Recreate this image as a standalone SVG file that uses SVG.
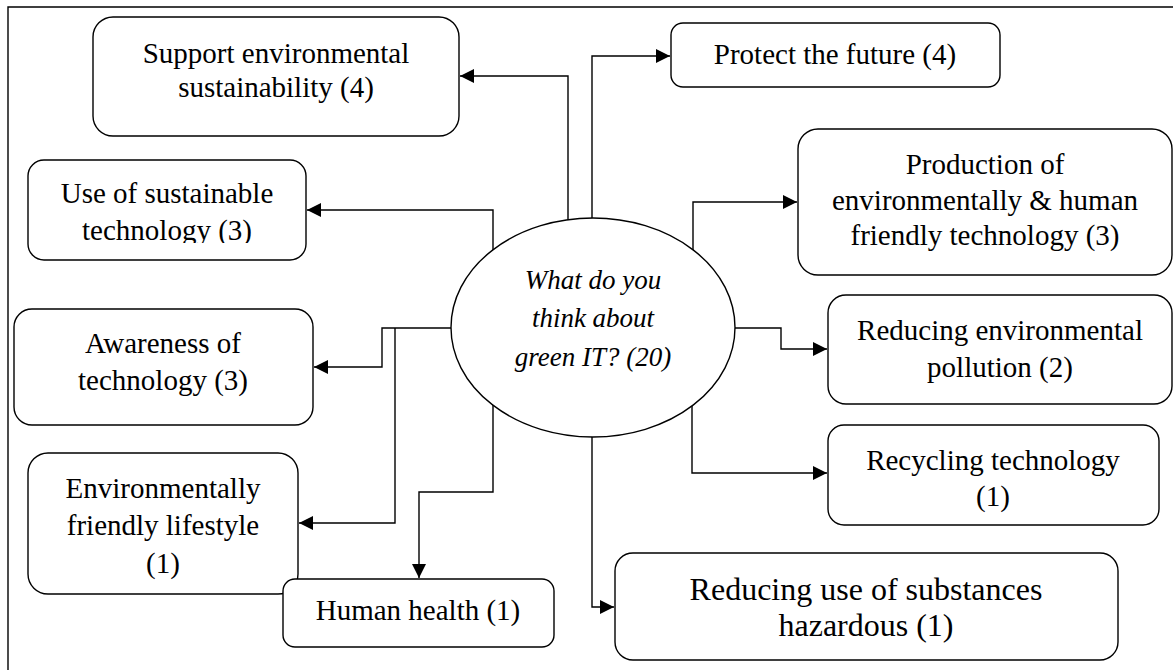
<svg xmlns="http://www.w3.org/2000/svg" width="1173" height="670" viewBox="0 0 1173 670">
<style>
.box{fill:#fff;stroke:#000;stroke-width:1.4}
.lbl{font-family:"Liberation Serif","Times New Roman",serif;font-size:29px;fill:#000;text-anchor:middle}
.big{font-size:32px}
.ctr{font-family:"Liberation Serif","Times New Roman",serif;font-size:27px;font-style:italic;fill:#000;text-anchor:middle}
.con{fill:none;stroke:#000;stroke-width:1.4}
.frame{fill:none;stroke:#000;stroke-width:1.4}
</style>
<defs>
<marker id="arr" markerUnits="userSpaceOnUse" markerWidth="14" markerHeight="14" refX="14" refY="7" orient="auto">
<path d="M0,0 L14,7 L0,14 z" fill="#000"/>
</marker>
<clipPath id="clipUse"><rect x="28" y="160" width="278" height="83"/></clipPath>
</defs>
<rect width="1173" height="670" fill="#fff"/>
<path class="frame" d="M8,670 V7 H1173"/>
<g id="connectors">
<path class="con" d="M568,220 V76 H460" marker-end="url(#arr)"/>
<path class="con" d="M592,218 V56 H670" marker-end="url(#arr)"/>
<path class="con" d="M693,256 V202 H797" marker-end="url(#arr)"/>
<path class="con" d="M493,250 V210 H307" marker-end="url(#arr)"/>
<path class="con" d="M451,328 H382 V367 H314" marker-end="url(#arr)"/>
<path class="con" d="M395,328 V523 H299" marker-end="url(#arr)"/>
<path class="con" d="M493,405 V492 H419 V578" marker-end="url(#arr)"/>
<path class="con" d="M592,437 V607 H614" marker-end="url(#arr)"/>
<path class="con" d="M692,406 V473 H827" marker-end="url(#arr)"/>
<path class="con" d="M735,328 H781 V349 H827" marker-end="url(#arr)"/>
</g>
<g id="center">
<ellipse class="box" cx="593" cy="327.5" rx="142" ry="109.5"/>
<text class="ctr" x="593" y="289">What do you</text>
<text class="ctr" x="593" y="327">think about</text>
<text class="ctr" x="593" y="366">green IT? (20)</text>
</g>
<g id="support">
<rect class="box" x="93" y="17" width="366" height="119" rx="20"/>
<text class="lbl" x="276" y="63">Support environmental</text>
<text class="lbl" x="276" y="97">sustainability (4)</text>
</g>
<g id="protect">
<rect class="box" x="671" y="23" width="329" height="64" rx="12"/>
<text class="lbl" x="835" y="64">Protect the future (4)</text>
</g>
<g id="use">
<rect class="box" x="28" y="160" width="278" height="100" rx="16"/>
<g clip-path="url(#clipUse)">
<text class="lbl" x="167" y="203">Use of sustainable</text>
<text class="lbl" x="167" y="240">technology (3)</text>
</g>
</g>
<g id="production">
<rect class="box" x="798" y="129" width="374" height="146" rx="20"/>
<text class="lbl" x="985" y="174">Production of</text>
<text class="lbl" x="985" y="210">environmentally &amp; human</text>
<text class="lbl" x="985" y="245">friendly technology (3)</text>
</g>
<g id="awareness">
<rect class="box" x="14" y="309" width="299" height="116" rx="18"/>
<text class="lbl" x="163" y="353">Awareness of</text>
<text class="lbl" x="163" y="390">technology (3)</text>
</g>
<g id="pollution">
<rect class="box" x="828" y="295" width="344" height="109" rx="18"/>
<text class="lbl" x="1000" y="340">Reducing environmental</text>
<text class="lbl" x="1000" y="377">pollution (2)</text>
</g>
<g id="recycling">
<rect class="box" x="828" y="425" width="331" height="100" rx="16"/>
<text class="lbl" x="993" y="470">Recycling technology</text>
<text class="lbl" x="993" y="506">(1)</text>
</g>
<g id="lifestyle">
<rect class="box" x="28" y="453" width="270" height="141" rx="20"/>
<text class="lbl" x="163" y="498">Environmentally</text>
<text class="lbl" x="163" y="535">friendly lifestyle</text>
<text class="lbl" x="163" y="573">(1)</text>
</g>
<g id="health">
<rect class="box" x="283" y="579" width="271" height="68" rx="12"/>
<text class="lbl" x="418" y="620">Human health (1)</text>
</g>
<g id="hazardous">
<rect class="box" x="615" y="553" width="503" height="107" rx="18"/>
<text class="lbl big" x="866" y="600">Reducing use of substances</text>
<text class="lbl big" x="866" y="636">hazardous (1)</text>
</g>
</svg>
